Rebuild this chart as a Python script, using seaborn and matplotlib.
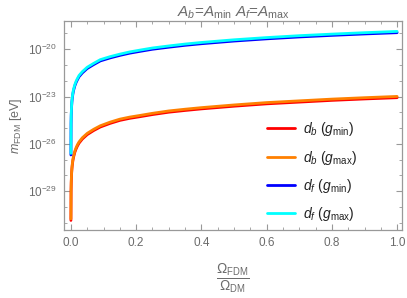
import numpy as np
import pandas as pd
import matplotlib
matplotlib.use("Agg")
import matplotlib.pyplot as plt
import matplotlib.ticker as mticker
import seaborn as sns

# ---------------------------------------------------------------
# Data (log10 of m_FDM in eV)
# ---------------------------------------------------------------
omega_ratio = [0.00004, 0.0005, 0.001, 0.002, 0.003, 0.004, 0.006, 0.008,
               0.012, 0.016, 0.02, 0.025, 0.035, 0.05, 0.07, 0.09, 0.12,
               0.15, 0.18, 0.21, 0.25, 0.3, 0.35, 0.4, 0.5, 0.6, 0.7, 0.8,
               0.9, 1.0]

log_db_gmin = [-30.85, -29.01, -28.47, -27.93, -27.61, -27.39, -27.07, -26.85,
               -26.53, -26.31, -26.13, -25.95, -25.69, -25.41, -25.15, -24.93,
               -24.70, -24.51, -24.38, -24.28, -24.14, -23.99, -23.88, -23.78,
               -23.61, -23.46, -23.35, -23.24, -23.15, -23.07]
log_db_gmax = [-30.75, -28.93, -28.39, -27.85, -27.53, -27.31, -26.99, -26.77,
               -26.45, -26.23, -26.05, -25.87, -25.61, -25.33, -25.07, -24.85,
               -24.62, -24.43, -24.30, -24.20, -24.06, -23.91, -23.80, -23.70,
               -23.53, -23.38, -23.27, -23.16, -23.07, -22.99]
log_df_gmin = [-26.70, -24.73, -24.20, -23.67, -23.35, -23.15, -22.84, -22.62,
               -22.32, -22.10, -21.93, -21.74, -21.50, -21.22, -20.97, -20.74,
               -20.55, -20.39, -20.25, -20.14, -20.00, -19.87, -19.75, -19.65,
               -19.48, -19.34, -19.22, -19.12, -19.03, -18.95]
log_df_gmax = [-26.60, -24.65, -24.12, -23.59, -23.27, -23.07, -22.76, -22.54,
               -22.24, -22.02, -21.85, -21.66, -21.42, -21.14, -20.89, -20.66,
               -20.47, -20.31, -20.17, -20.06, -19.92, -19.79, -19.67, -19.57,
               -19.40, -19.26, -19.14, -19.04, -18.95, -18.87]

labels = [r"$d_b$ ($g_{\rm min}$)", r"$d_b$ ($g_{\rm max}$)",
          r"$d_f$ ($g_{\rm min}$)", r"$d_f$ ($g_{\rm max}$)"]
colors = ["#ff0000", "#ff8000", "#0000ff", "#00ffff"]

frames = []
for lab, vals in zip(labels, [log_db_gmin, log_db_gmax, log_df_gmin, log_df_gmax]):
    frames.append(pd.DataFrame({"ratio": omega_ratio,
                                "m": 10.0 ** np.array(vals),
                                "curve": lab}))
df = pd.concat(frames, ignore_index=True)

# ---------------------------------------------------------------
# Style
# ---------------------------------------------------------------
sns.set_style("ticks", {"xtick.direction": "in", "ytick.direction": "in"})
plt.rcParams["font.family"] = ["Liberation Sans", "DejaVu Sans"]
plt.rcParams["mathtext.fontset"] = "custom"
plt.rcParams["mathtext.rm"] = "Liberation Sans"
plt.rcParams["mathtext.it"] = "Liberation Sans:italic"
plt.rcParams["mathtext.bf"] = "Liberation Sans:bold"

TXT = "#6b6b6b"
FRAME = "#999999"

fig = plt.figure(figsize=(4.07, 2.98), dpi=100)
ax = fig.add_axes([0.157, 0.228, 0.831, 0.7015])

sns.lineplot(data=df, x="ratio", y="m", hue="curve", palette=colors,
             hue_order=labels, linewidth=2.0, sort=False, legend=False,
             ax=ax)

ax.set_yscale("log")
ax.set_xlim(-0.0215, 1.0153)
ax.set_ylim(10 ** -31.46, 10 ** -18.21)

ax.xaxis.set_major_locator(mticker.MultipleLocator(0.2))
ax.xaxis.set_minor_locator(mticker.MultipleLocator(0.05))
ax.xaxis.set_major_formatter(mticker.FormatStrFormatter("%.1f"))

ax.set_yticks([1e-29, 1e-26, 1e-23, 1e-20])
ax.set_yticklabels([r"$10^{-29}$", r"$10^{-26}$", r"$10^{-23}$", r"$10^{-20}$"])
ax.yaxis.set_minor_locator(mticker.FixedLocator([10.0 ** k for k in range(-31, -17)]))
ax.yaxis.set_minor_formatter(mticker.NullFormatter())

for s in ax.spines.values():
    s.set_color(FRAME)
    s.set_linewidth(0.9)
ax.tick_params(which="both", direction="in", bottom=True, left=True,
               top=True, right=True, color=FRAME, labelcolor=TXT,
               labelsize=8.5, pad=5)
ax.tick_params(which="major", length=4, width=0.8)
ax.tick_params(which="minor", length=2.5, width=0.6)

ax.set_xlabel(r"$\frac{\Omega_{\rm FDM}}{\Omega_{\rm DM}}$", color=TXT,
              fontsize=14, labelpad=9)
ax.set_ylabel(r"$m_{\rm FDM}$ [eV]", color=TXT, fontsize=9, labelpad=3)
ax.set_title(r"$A_b$=$A_{\rm min}$ $A_f$=$A_{\rm max}$", color=TXT,
             fontsize=11, pad=3)

handles = [plt.Line2D([], [], color=c, linewidth=2.0) for c in colors]
leg = fig.legend(handles, labels, loc="upper left",
                 bbox_to_anchor=(0.656, 0.597), frameon=False, fontsize=10,
                 handlelength=2.0, handletextpad=0.6, labelspacing=0.75,
                 borderpad=0, borderaxespad=0)
for t in leg.get_texts():
    t.set_color("#222222")

fig.savefig("out.png", dpi=100)
